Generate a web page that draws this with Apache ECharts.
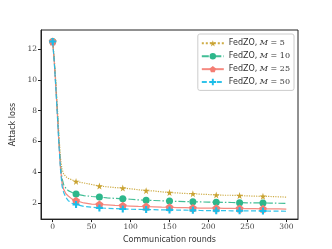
<!DOCTYPE html>
<html><head><meta charset="utf-8">
<script src="https://cdn.jsdelivr.net/npm/echarts@6/dist/echarts.min.js"></script>
<style>html,body{margin:0;padding:0;background:#fff}#c{width:332px;height:249px}</style>
</head><body><div id="c"></div>
<script>
const rounds = [0,2,4,6,8,10,12,14,17,20,25,30,40,50,60,70,80,90,100,110,120,130,140,150,160,170,180,190,200,210,220,230,240,250,260,270,280,290,300];
const lossM5  = [12.5,11.4,9.9,8.2,6.4,4.9,4.2,3.9,3.7,3.6,3.5,3.4,3.3,3.2,3.1,3.05,3.0,2.97,2.92,2.86,2.8,2.78,2.72,2.68,2.65,2.62,2.6,2.57,2.55,2.52,2.5,2.5,2.48,2.46,2.44,2.43,2.42,2.4,2.38];
const lossM10 = [12.5,11.3,9.7,8.0,6.1,4.5,3.6,3.2,2.95,2.8,2.68,2.58,2.48,2.42,2.38,2.33,2.3,2.27,2.24,2.2,2.18,2.16,2.14,2.12,2.1,2.09,2.08,2.07,2.05,2.05,2.04,2.03,2.02,2.01,2.0,2.0,1.99,1.98,1.97];
const lossM25 = [12.5,11.2,9.6,7.8,5.9,4.3,3.3,2.9,2.6,2.45,2.25,2.15,2.0,1.93,1.9,1.87,1.84,1.82,1.8,1.78,1.77,1.75,1.73,1.72,1.7,1.69,1.68,1.67,1.66,1.66,1.65,1.65,1.64,1.63,1.63,1.62,1.61,1.61,1.6];
const lossM50 = [12.5,11.2,9.5,7.7,5.8,4.2,3.1,2.7,2.35,2.15,1.98,1.9,1.78,1.72,1.68,1.65,1.63,1.61,1.59,1.58,1.57,1.56,1.55,1.55,1.54,1.53,1.52,1.51,1.5,1.5,1.5,1.49,1.49,1.48,1.48,1.48,1.47,1.47,1.46];
const seriesNames = ['M = 5','M = 10','M = 25','M = 50'];
const xTicks = [0,50,100,150,200,250,300];
const yTicks = [2,4,6,8,10,12];
const markEvery = 30;

const colors = ['#c9a332','#2db78b','#f47d73','#1bbde8'];
const lineTypes = ['dotted',[7,2,1.5,2],'solid',[5,2.5]];
const star = 'path://M50,0 L61,35 L98,35 L68,57 L79,91 L50,70 L21,91 L32,57 L2,35 L39,35 Z';
const pent = 'path://M50,0 L98,35 L79,91 L21,91 L2,35 Z';
const plus = 'path://M35,0 L65,0 L65,35 L100,35 L100,65 L65,65 L65,100 L35,100 L35,65 L0,65 L0,35 L35,35 Z';
const symbols = [star, 'circle', pent, plus];
const symSizes = [7,7,8,7];
const allLoss = [lossM5,lossM10,lossM25,lossM50];

const chart = echarts.init(document.getElementById('c'), null, {renderer:'canvas'});
const serif = "'DejaVu Serif', 'Liberation Serif', serif";
const sans = "'DejaVu Sans', sans-serif";
chart.setOption({
  animation:false,
  grid:{left:41,right:34,top:30,bottom:28,show:true,borderColor:'#222',borderWidth:1},
  legend:{
    right:38, top:34, orient:'vertical',
    backgroundColor:'#fff', borderColor:'#ccc', borderWidth:1, borderRadius:2,
    padding:[5,4,4,3], itemGap:4.2, itemWidth:22, itemHeight:8,
    data: seriesNames.map(n=>'FedZO, '+n),
    formatter: function(name){
      const m = name.split('M = ')[1];
      return '{a|FedZO, }{i|M}{b| = '+m+'}';
    },
    textStyle:{ color:'#333', fontSize:8, lineHeight:8.7,
      rich:{ a:{fontFamily:sans,fontSize:8,color:'#333'}, i:{fontFamily:serif,fontStyle:'italic',fontSize:8,color:'#333'}, b:{fontFamily:serif,fontSize:8,color:'#333'} } }
  },
  xAxis:{
    type:'value', min:-15, max:315,
    name:'Communication rounds', nameLocation:'middle', nameGap:14,
    nameTextStyle:{fontFamily:sans,fontSize:8,color:'#333'},
    axisLine:{show:true,onZero:false,lineStyle:{color:'#222',width:1}},
    axisTick:{show:true,length:3,lineStyle:{color:'#222'},customValues:xTicks},
    axisLabel:{fontFamily:serif,fontSize:7.5,color:'#444',margin:4,customValues:xTicks},
    splitLine:{show:false}
  },
  yAxis:{
    type:'value', min:0.95, max:13.25,
    name:'Attack loss', nameLocation:'middle', nameGap:21,
    nameTextStyle:{fontFamily:sans,fontSize:8,color:'#333'},
    axisLine:{show:true,onZero:false,lineStyle:{color:'#222',width:1}},
    axisTick:{show:true,length:3,lineStyle:{color:'#222'},customValues:yTicks},
    axisLabel:{fontFamily:serif,fontSize:7.5,color:'#444',margin:4,customValues:yTicks},
    splitLine:{show:false}
  },
  series: seriesNames.map((n,i)=>({
    name:'FedZO, '+n, type:'line',
    data: rounds.map((r,k)=>[r, allLoss[i][k]]),
    symbol: symbols[i],
    symbolSize: function(v){ return (v[0] % markEvery === 0 && v[0] < 300) ? symSizes[i] : 0; },
    showAllSymbol:true,
    color: colors[i],
    itemStyle:{color:colors[i]},
    lineStyle:{color:colors[i], width:1.2, type:lineTypes[i], opacity:0.9},
    z: 2+i
  }))
});
</script></body></html>
